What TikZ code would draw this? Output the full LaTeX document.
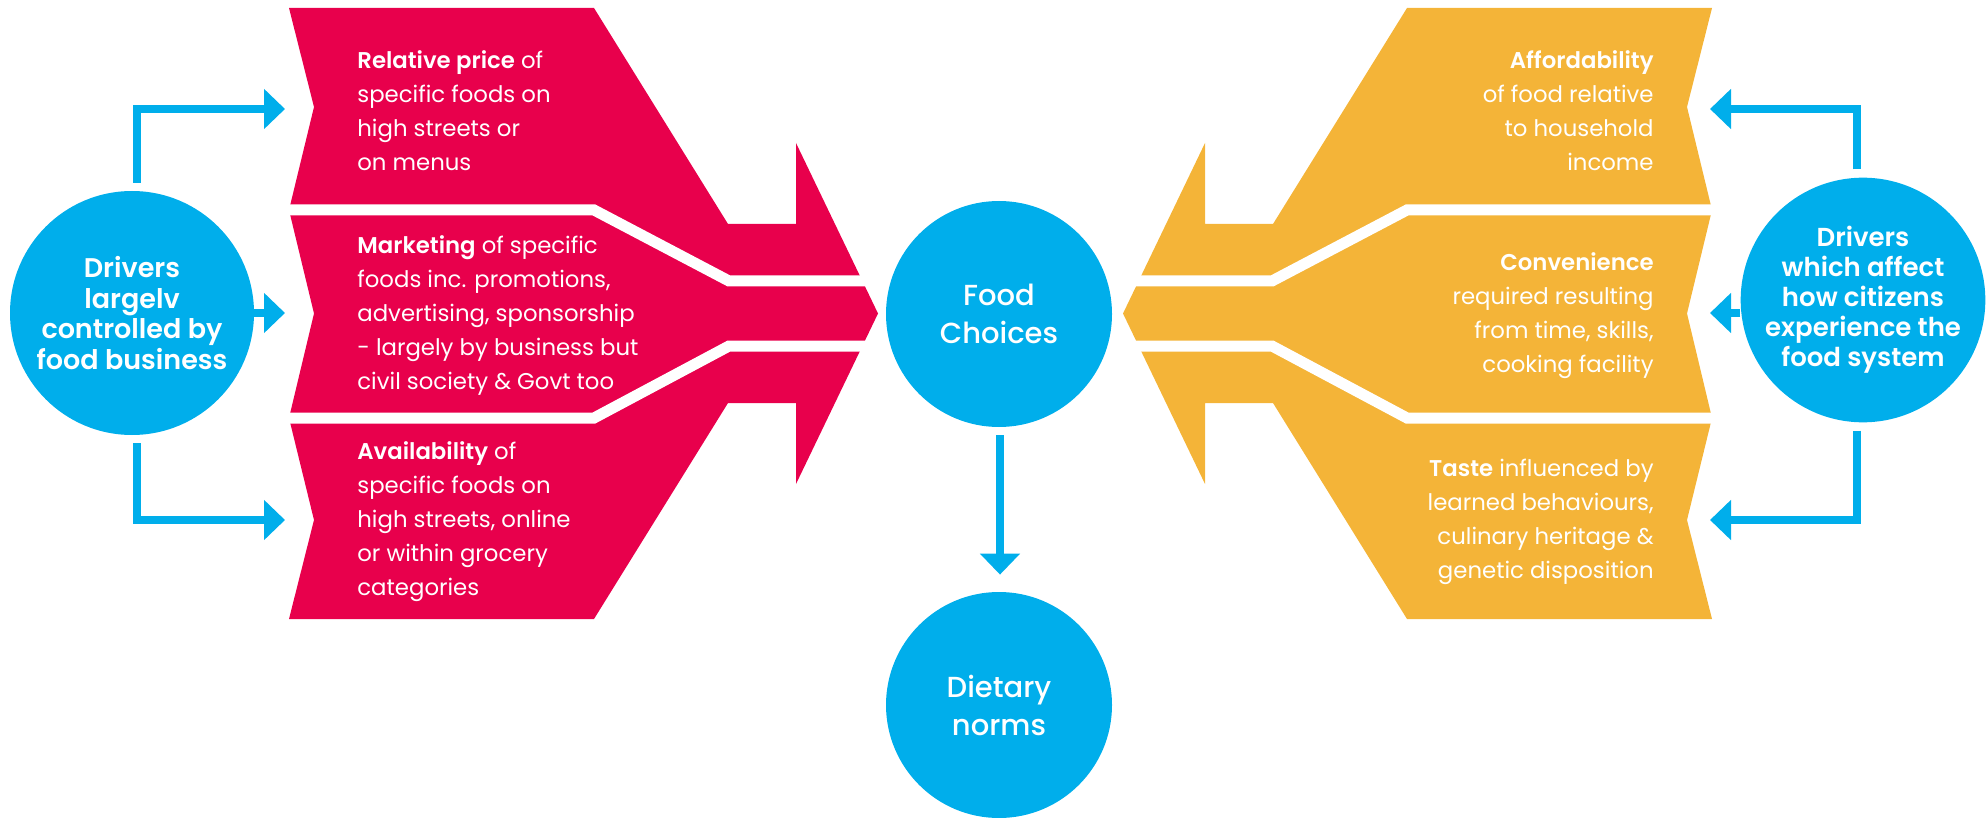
\documentclass[tikz,border=0pt]{standalone}
\usepackage{fontspec}
\setmainfont{Poppins}[BoldFont=Poppins SemiBold]
\newfontfamily\hubfont{Poppins Medium}
\usetikzlibrary{arrows.meta}
\definecolor{drivepink}{RGB}{232,0,76}
\definecolor{driveamber}{RGB}{244,180,56}
\definecolor{hubblue}{RGB}{0,174,235}
\tikzset{
  hub/.style={circle, fill=hubblue, text=white, inner sep=0pt, align=center,
    font=\bfseries\fontsize{13.5}{15.3}\selectfont},
  smallhub/.style={hub, font=\bfseries\fontsize{13}{15}\selectfont},
  bighub/.style={hub, font=\hubfont\fontsize{14.5}{19}\selectfont},
  factor/.style={text=white, inner sep=0pt, font=\fontsize{11.4}{17}\selectfont},
  link/.style={hubblue, line width=4pt, -{Triangle[width=19.5pt,length=10.5pt]}},
  gapline/.style={white, line width=5.5pt},
}
\begin{document}
\begin{tikzpicture}[x=0.5pt, y=-0.5pt]
  \useasboundingbox (0,0) rectangle (1986,818);
  % two banded arrows, the amber one mirrored
  \foreach \flip/\tone/\move in {1/drivepink/0pt, -1/driveamber/1000.5pt}{
    \begin{scope}[xshift=\move, xscale=\flip]
      \fill[\tone] (289,8) -- (594,8) -- (728,224) -- (796,224) -- (796,143)
        -- (878,313.5) -- (796,484) -- (796,403) -- (728,403) -- (594,619)
        -- (289,619) -- (314,520) -- (289,418) -- (314,313.5) -- (289,210)
        -- (314,107) -- cycle;
      % white cuts between the bands
      \draw[gapline] (280,210) -- (594,210) -- (729,281) -- (880,281);
      \draw[gapline] (280,418) -- (594,418) -- (729,346) -- (880,346);
    \end{scope}
  }
  % band texts
  \node[factor, anchor=west, align=left] (price) at (357,111)
    {\textbf{Relative price} of\\specific foods on\\high streets or\\on menus};
  \node[factor, anchor=west, align=left] (market) at (357,316)
    {\textbf{Marketing} of specific\\foods inc. promotions,\\advertising, sponsorship\\- largely by business but\\civil society \& Govt too};
  \node[factor, anchor=west, align=left] (avail) at (357,522)
    {\textbf{Availability} of\\specific foods on\\high streets, online\\or within grocery\\categories};
  \node[factor, anchor=east, align=right] (afford) at (1654,111)
    {\textbf{Affordability}\\of food relative\\to household\\income};
  \node[factor, anchor=east, align=right] (conv) at (1654,316)
    {\textbf{Convenience}\\required resulting\\from time, skills,\\cooking facility};
  \node[factor, anchor=east, align=right] (taste) at (1654,522)
    {\textbf{Taste} influenced by\\learned behaviours,\\culinary heritage \&\\genetic disposition};
  % circles
  \node[hub, minimum size=122pt] (drvL) at (132,313)
    {Drivers\\largelv\\controlled by\\food business};
  \node[smallhub, minimum size=122pt] (drvR) at (1863,300)
    {Drivers\\which affect\\how citizens\\experience the\\food system};
  \node[bighub, minimum size=113pt] (choice) at (999,314) {Food\\Choices};
  \node[bighub, minimum size=113pt] (norms) at (999,705) {Dietary\\norms};
  % arrow tips at the bands
  \coordinate (inPrice) at (285,109);
  \coordinate (inMarket) at (285,313);
  \coordinate (inAvail) at (285,520);
  \coordinate (inAfford) at (1710,109);
  \coordinate (inConv) at (1710,313);
  \coordinate (inTaste) at (1710,520);
  % connectors
  \draw[link] ([shift={(5,-8)}]drvL.north) |- (inPrice);
  \draw[link] (drvL.east) -- (inMarket);
  \draw[link] ([shift={(5,8)}]drvL.south) |- (inAvail);
  \draw[link] ([shift={(-6,-8)}]drvR.north) |- (inAfford);
  \draw[link] (drvR.west |- inConv) -- (inConv);
  \draw[link] ([shift={(-6,8)}]drvR.south) |- (inTaste);
  \draw[link] ([shift={(1,8)}]choice.south) -- ([shift={(1,-17)}]norms.north);
\end{tikzpicture}
\end{document}
